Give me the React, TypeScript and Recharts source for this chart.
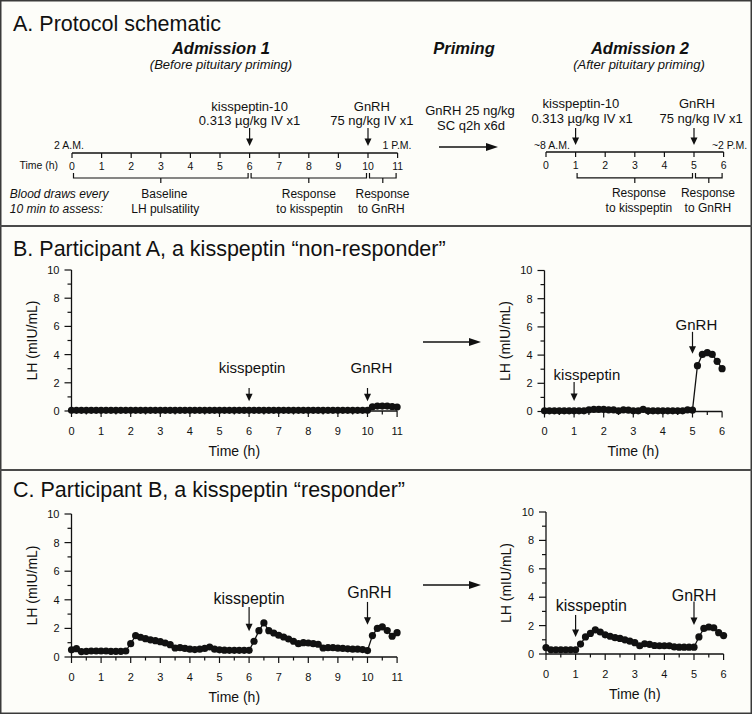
import React from 'react';
import { LineChart, Line, XAxis, YAxis, ReferenceLine, ReferenceDot } from 'recharts';

const FONT = '"Liberation Sans", Arial, Helvetica, sans-serif';
const BG = '#fdfdf9';
const INK = '#111';

// ---------- data ----------
const admission1Minutes = [0,10,20,30,40,50,60,70,80,90,100,110,120,130,140,150,160,170,180,190,200,210,220,230,240,250,260,270,280,290,300,310,320,330,340,350,360,370,380,390,400,410,420,430,440,450,460,470,480,490,500,510,520,530,540,550,560,570,580,590,600,610,620,630,640,650,660];
const admission2Minutes = [0,10,20,30,40,50,60,70,80,90,100,110,120,130,140,150,160,170,180,190,200,210,220,230,240,250,260,270,280,290,300,310,320,330,340,350,360];

const participantA_adm1 = [0.05,0.05,0.05,0.05,0.05,0.05,0.05,0.05,0.05,0.05,0.05,0.05,0.05,0.05,0.05,0.05,0.05,0.05,0.05,0.05,0.05,0.05,0.05,0.05,0.05,0.05,0.05,0.05,0.05,0.05,0.05,0.05,0.05,0.05,0.05,0.05,0.05,0.05,0.05,0.05,0.05,0.05,0.05,0.05,0.05,0.05,0.05,0.05,0.05,0.05,0.05,0.05,0.05,0.05,0.05,0.05,0.05,0.05,0.05,0.05,0.05,0.3,0.35,0.35,0.35,0.32,0.28];
const participantA_adm2 = [0.05,0.05,0.05,0.05,0.05,0.05,0.05,0.05,0.05,0.12,0.15,0.15,0.15,0.12,0.12,0.05,0.12,0.1,0.05,0.05,0.15,0.05,0.05,0.05,0.05,0.05,0.05,0.05,0.05,0.12,0.1,3.25,4.05,4.17,4.05,3.56,3.04];
const participantB_adm1 = [0.5,0.58,0.38,0.4,0.42,0.42,0.42,0.42,0.4,0.4,0.4,0.42,0.93,1.49,1.38,1.28,1.2,1.14,1.07,0.98,0.86,0.63,0.65,0.6,0.55,0.52,0.55,0.6,0.7,0.55,0.5,0.48,0.47,0.47,0.47,0.47,0.47,1.1,1.84,2.38,1.84,1.68,1.52,1.4,1.26,1.1,0.93,1.0,0.98,0.93,0.89,0.63,0.65,0.65,0.62,0.6,0.57,0.55,0.55,0.52,0.45,1.5,2.0,2.1,1.85,1.45,1.7];
const participantB_adm2 = [0.45,0.3,0.3,0.3,0.3,0.3,0.3,0.7,1.2,1.45,1.7,1.55,1.35,1.25,1.15,1.1,1.0,0.9,0.8,0.58,0.72,0.68,0.6,0.58,0.58,0.58,0.5,0.48,0.48,0.48,0.48,1.2,1.8,1.9,1.85,1.5,1.3];

const lhTicks = [0,1,2,3,4,5,6,7,8,9,10];
const adm1TimeTicks = [0,30,60,90,120,150,180,210,240,270,300,330,360,390,420,450,480,510,540,570,600,630,660];
const adm2TimeTicks = [0,30,60,90,120,150,180,210,240,270,300,330,360];
const schematic1Hours = [0,1,2,3,4,5,6,7,8,9,10,11];
const schematic2Hours = [0,1,2,3,4,5,6];

type Ann = { label: string; x: number; labelX: number; labelY: number; yTop: number; yTip: number };
const annBLeft: Ann[] = [
  { label: 'kisspeptin', x: 360, labelX: 366, labelY: 3.05, yTop: 1.63, yTip: 0.7 },
  { label: 'GnRH', x: 600, labelX: 608, labelY: 3.05, yTop: 1.63, yTip: 0.7 },
];
const annBRight: Ann[] = [
  { label: 'kisspeptin', x: 60, labelX: 86, labelY: 2.6, yTop: 2.1, yTip: 0.75 },
  { label: 'GnRH', x: 300, labelX: 308, labelY: 6.15, yTop: 5.65, yTip: 4.1 },
];
const annCLeft: Ann[] = [
  { label: 'kisspeptin', x: 360, labelX: 360, labelY: 4.1, yTop: 3.5, yTip: 1.8 },
  { label: 'GnRH', x: 600, labelX: 604, labelY: 4.5, yTop: 3.85, yTip: 2.25 },
];
const annCRight: Ann[] = [
  { label: 'kisspeptin', x: 60, labelX: 92, labelY: 3.45, yTop: 2.75, yTip: 1.2 },
  { label: 'GnRH', x: 300, labelX: 300, labelY: 4.15, yTop: 3.7, yTip: 2.05 },
];

type SText = { text: string; x: number; y: number; anchor?: 'start' | 'middle' | 'end'; size: number; italic?: boolean };
type Bracket = { from: number; to: number; y: number };

const sched1Arrows = [{ x: 6, yTop: 1, yTip: 0.28 }, { x: 10, yTop: 1, yTip: 0.28 }];
const sched1Brackets: Bracket[] = [{ from: 0, to: 6, y: -1 }, { from: 6, to: 10, y: -1 }, { from: 10, to: 11, y: -1 }];
const sched1Texts: SText[] = [
  { text: 'kisspeptin-10', x: 6, y: 1.88, size: 13 },
  { text: '0.313 µg/kg IV x1', x: 6, y: 1.3, size: 13 },
  { text: 'GnRH', x: 10.13, y: 1.88, size: 13 },
  { text: '75 ng/kg IV x1', x: 10.13, y: 1.3, size: 13 },
  { text: '2 A.M.', x: 0.4, y: 0.32, anchor: 'end', size: 10.5 },
  { text: '1 P.M.', x: 10.98, y: 0.32, size: 10.5 },
  { text: 'Time (h)', x: -0.47, y: -0.48, anchor: 'end', size: 10.5 },
  { text: 'Blood draws every', x: -2.1, y: -1.64, anchor: 'start', size: 12, italic: true },
  { text: '10 min to assess:', x: -2.1, y: -2.24, anchor: 'start', size: 12, italic: true },
  { text: 'Baseline', x: 3.12, y: -1.64, size: 12 },
  { text: 'LH pulsatility', x: 3.15, y: -2.24, size: 12 },
  { text: 'Response', x: 8.0, y: -1.64, size: 12 },
  { text: 'to kisspeptin', x: 8.03, y: -2.24, size: 12 },
  { text: 'Response', x: 10.49, y: -1.64, size: 12 },
  { text: 'to GnRH', x: 10.45, y: -2.24, size: 12 },
];

const sched2Arrows = [{ x: 1, yTop: 1, yTip: 0.29 }, { x: 5, yTop: 1, yTip: 0.29 }];
const sched2Brackets: Bracket[] = [{ from: 1, to: 5, y: -1.08 }, { from: 5, to: 6, y: -1.08 }];
const sched2Texts: SText[] = [
  { text: 'kisspeptin-10', x: 1.18, y: 2.02, size: 13 },
  { text: '0.313 µg/kg IV x1', x: 1.22, y: 1.4, size: 13 },
  { text: 'GnRH', x: 5.1, y: 2.02, size: 13 },
  { text: '75 ng/kg IV x1', x: 5.24, y: 1.4, size: 13 },
  { text: '~8 A.M.', x: 0.2, y: 0.29, size: 10.5 },
  { text: '~2 P.M.', x: 6.2, y: 0.29, size: 10.5 },
  { text: 'Response', x: 3.14, y: -1.71, size: 12 },
  { text: 'to kisspeptin', x: 3.14, y: -2.33, size: 12 },
  { text: 'Response', x: 5.47, y: -1.71, size: 12 },
  { text: 'to GnRH', x: 5.47, y: -2.33, size: 12 },
];

// ---------- shapes ----------
const arrowShape = (p: any) => {
  const x = p.x1;
  const top = Math.min(p.y1, p.y2);
  const tip = Math.max(p.y1, p.y2);
  return (
    <g>
      <line x1={x} y1={top} x2={x} y2={tip - 6} stroke={INK} strokeWidth={1.2} />
      <path d={`M${x - 3.5},${tip - 7.5}L${x + 3.5},${tip - 7.5}L${x},${tip}Z`} fill={INK} />
    </g>
  );
};

const bracketShape = (p: any) => {
  const a = Math.min(p.x1, p.x2) + 1.5;
  const b = Math.max(p.x1, p.x2) - 1.5;
  const y = p.y1;
  const m = (a + b) / 2;
  return (
    <g stroke={INK} strokeWidth={1.2} fill="none">
      <path d={`M${a},${y - 5}L${a},${y}L${b},${y}L${b},${y - 5}`} />
      <line x1={m} y1={y} x2={m} y2={y + 5} />
    </g>
  );
};

const XTick = (p: any) => {
  const v = p.payload.value;
  const major = v % 60 === 0;
  return (
    <g>
      <line x1={p.x} y1={p.y} x2={p.x} y2={p.y + (major ? 6 : 3.5)} stroke={INK} strokeWidth={1.2} />
      {major && (
        <text x={p.x} y={p.y + 20} textAnchor="middle" dominantBaseline="central" fontSize={11} fontFamily={FONT} fill={INK}>
          {v / 60}
        </text>
      )}
    </g>
  );
};

const YTick = (p: any) => {
  const v = p.payload.value;
  const major = v % 2 === 0;
  return (
    <g>
      <line x1={p.x - (major ? 7 : 4)} y1={p.y} x2={p.x} y2={p.y} stroke={INK} strokeWidth={1.2} />
      {major && (
        <text x={p.x - 12} y={p.y} textAnchor="end" dominantBaseline="central" fontSize={11} fontFamily={FONT} fill={INK}>
          {v}
        </text>
      )}
    </g>
  );
};

const XTitle = (p: any) => {
  const vb = p.viewBox;
  return (
    <text x={vb.x + vb.width / 2} y={vb.y + 40} textAnchor="middle" dominantBaseline="central" fontSize={14} fontFamily={FONT} fill={INK}>
      Time (h)
    </text>
  );
};

const YTitle = (p: any) => {
  const vb = p.viewBox;
  const x = vb.x + vb.width - 39.5;
  const y = vb.y + vb.height / 2;
  return (
    <text x={x} y={y} transform={`rotate(-90, ${x}, ${y})`} textAnchor="middle" dominantBaseline="central" fontSize={14} fontFamily={FONT} fill={INK}>
      LH (mIU/mL)
    </text>
  );
};

const HOUR_PX = 29.6;

function LHChart(props: {
  left: number; top: number; plotLeft: number; plotTop: number; plotH: number;
  maxMin: number; minutes: number[]; values: number[]; xTicks: number[]; anns: Ann[]; annSize: number;
}) {
  const { left, top, plotLeft, plotTop, plotH, maxMin, minutes, values, xTicks, anns, annSize } = props;
  const data = minutes.map((m, i) => ({ m, lh: values[i] }));
  const plotW = (HOUR_PX * maxMin) / 60;
  const right = 16;
  const width = plotLeft + plotW + right;
  const height = plotTop + plotH + 50;
  return (
    <div style={{ position: 'absolute', left, top }}>
      <LineChart width={width} height={height} data={data} margin={{ top: plotTop, right, bottom: 0, left: 0 }}>
        <XAxis
          dataKey="m" type="number" domain={[0, maxMin]} ticks={xTicks} interval={0}
          tickLine={false} tickSize={0} tickMargin={0} tick={XTick}
          axisLine={{ stroke: INK, strokeWidth: 1.3 }} height={50} label={XTitle}
        />
        <YAxis
          type="number" domain={[0, 10]} ticks={lhTicks} interval={0} width={plotLeft}
          tickLine={false} tickSize={0} tickMargin={0} tick={YTick}
          axisLine={{ stroke: INK, strokeWidth: 1.3 }} label={YTitle}
        />
        <Line
          dataKey="lh" stroke={INK} strokeWidth={1.3}
          dot={{ r: 3.6, fill: INK, stroke: INK, strokeWidth: 0 }}
          activeDot={false} isAnimationActive={false}
        />
        {anns.map((a, i) => (
          <ReferenceLine key={'al' + i} segment={[{ x: a.x, y: a.yTop }, { x: a.x, y: a.yTip }]} ifOverflow="visible" shape={arrowShape} />
        ))}
        {anns.map((a, i) => (
          <ReferenceDot
            key={'at' + i} x={a.labelX} y={a.labelY} r={1} ifOverflow="visible"
            shape={(p: any) => (
              <text x={p.cx} y={p.cy} textAnchor="middle" dominantBaseline="central" fontSize={annSize} fontFamily={FONT} fill={INK}>
                {a.label}
              </text>
            )}
          />
        ))}
      </LineChart>
    </div>
  );
}

function Timeline(props: {
  left: number; top: number; width: number; height: number; x0: number; plotTop: number; plotH: number;
  maxH: number; hours: number[]; arrows: { x: number; yTop: number; yTip: number }[]; brackets: Bracket[]; texts: SText[];
}) {
  const { left, top, width, height, x0, plotTop, plotH, maxH, hours, arrows, brackets, texts } = props;
  // the timeline itself sits at level 0 of the hidden vertical axis
  const data = hours.map((t) => ({ t, level: 0 }));
  const plotW = HOUR_PX * maxH;
  const right = width - x0 - plotW;
  const tick = (p: any) => (
    <g>
      <line x1={p.x} y1={p.y} x2={p.x} y2={p.y + 5} stroke={INK} strokeWidth={1.2} />
      <text x={p.x} y={p.y + 12.5} textAnchor="middle" dominantBaseline="central" fontSize={10.5} fontFamily={FONT} fill={INK}>
        {p.payload.value}
      </text>
    </g>
  );
  return (
    <div style={{ position: 'absolute', left, top }}>
      <LineChart width={width} height={height} data={data} margin={{ top: plotTop, right, bottom: height - plotTop - plotH - 20, left: 0 }}>
        <XAxis dataKey="t" type="number" domain={[0, maxH]} ticks={hours} interval={0}
          tickLine={false} tickSize={0} tickMargin={0} tick={tick}
          axisLine={{ stroke: INK, strokeWidth: 1.3 }} height={20} />
        <YAxis type="number" domain={[0, 1]} width={x0} tick={false} axisLine={false} tickLine={false} allowDataOverflow />
        <Line dataKey="level" stroke="none" dot={false} activeDot={false} isAnimationActive={false} />
        {arrows.map((a, i) => (
          <ReferenceLine key={'a' + i} segment={[{ x: a.x, y: a.yTop }, { x: a.x, y: a.yTip }]} ifOverflow="visible" shape={arrowShape} />
        ))}
        {brackets.map((b, i) => (
          <ReferenceLine key={'b' + i} segment={[{ x: b.from, y: b.y }, { x: b.to, y: b.y }]} ifOverflow="visible" shape={bracketShape} />
        ))}
        {texts.map((s, i) => (
          <ReferenceDot
            key={'t' + i} x={s.x} y={s.y} r={1} ifOverflow="visible"
            shape={(p: any) => (
              <text x={p.cx} y={p.cy} textAnchor={s.anchor || 'middle'} dominantBaseline="central" fontSize={s.size}
                fontStyle={s.italic ? 'italic' : 'normal'} fontFamily={FONT} fill={INK}>
                {s.text}
              </text>
            )}
          />
        ))}
      </LineChart>
    </div>
  );
}

const HArrow = ({ x1, x2, y }: { x1: number; x2: number; y: number }) => (
  <g>
    <line x1={x1} y1={y} x2={x2 - 9} y2={y} stroke={INK} strokeWidth={1.5} />
    <path d={`M${x2 - 12},${y - 4}L${x2},${y}L${x2 - 12},${y + 4}Z`} fill={INK} />
  </g>
);

export default function App() {
  return (
    <div style={{ position: 'absolute', left: 0, top: 0, width: 752, height: 714, background: BG, fontFamily: FONT }}>
      <svg width={752} height={714} style={{ position: 'absolute', left: 0, top: 0 }}>
        <rect x={0.75} y={0.75} width={750.5} height={712.5} fill={BG} stroke="#3a3a3a" strokeWidth={1.5} />
        <line x1={0} y1={226} x2={752} y2={226} stroke="#4a4a4a" strokeWidth={2} />
        <line x1={0} y1={470} x2={752} y2={470} stroke="#4a4a4a" strokeWidth={2} />
        <g fontFamily={FONT} fill={INK}>
          <text x={13} y={31} fontSize={21.5}>A. Protocol schematic</text>
          <text x={13} y={256} fontSize={21.5}>B. Participant A, a kisspeptin “non-responder”</text>
          <text x={13} y={497} fontSize={21.5}>C. Participant B, a kisspeptin “responder”</text>
          <text x={221} y={54} fontSize={16.5} fontWeight="bold" fontStyle="italic" textAnchor="middle">Admission 1</text>
          <text x={221} y={69} fontSize={13} fontStyle="italic" textAnchor="middle">(Before pituitary priming)</text>
          <text x={464} y={54} fontSize={16.5} fontWeight="bold" fontStyle="italic" textAnchor="middle">Priming</text>
          <text x={640} y={54} fontSize={16.5} fontWeight="bold" fontStyle="italic" textAnchor="middle">Admission 2</text>
          <text x={639} y={69} fontSize={13} fontStyle="italic" textAnchor="middle">(After pituitary priming)</text>
          <text x={470} y={110} fontSize={13} textAnchor="middle" dominantBaseline="central">GnRH 25 ng/kg</text>
          <text x={471} y={125} fontSize={13} textAnchor="middle" dominantBaseline="central">SC q2h x6d</text>
        </g>
        <HArrow x1={439} x2={498} y={147} />
        <HArrow x1={423} x2={481} y={342} />
        <HArrow x1={423} x2={481} y={585} />
      </svg>

      <Timeline left={0} top={95} width={430} height={130} x0={72} plotTop={33} plotH={25} maxH={11}
        hours={schematic1Hours} arrows={sched1Arrows} brackets={sched1Brackets} texts={sched1Texts} />
      <Timeline left={480} top={95} width={272} height={130} x0={66} plotTop={33} plotH={24} maxH={6}
        hours={schematic2Hours} arrows={sched2Arrows} brackets={sched2Brackets} texts={sched2Texts} />

      <LHChart left={0} top={226} plotLeft={71.5} plotTop={44} plotH={141} maxMin={660}
        minutes={admission1Minutes} values={participantA_adm1} xTicks={adm1TimeTicks} anns={annBLeft} annSize={15} />
      <LHChart left={460} top={226} plotLeft={84.5} plotTop={44.5} plotH={141} maxMin={360}
        minutes={admission2Minutes} values={participantA_adm2} xTicks={adm2TimeTicks} anns={annBRight} annSize={15} />
      <LHChart left={0} top={470} plotLeft={71.5} plotTop={44} plotH={143} maxMin={660}
        minutes={admission1Minutes} values={participantB_adm1} xTicks={adm1TimeTicks} anns={annCLeft} annSize={16} />
      <LHChart left={460} top={470} plotLeft={86} plotTop={42} plotH={142} maxMin={360}
        minutes={admission2Minutes} values={participantB_adm2} xTicks={adm2TimeTicks} anns={annCRight} annSize={16} />
    </div>
  );
}
